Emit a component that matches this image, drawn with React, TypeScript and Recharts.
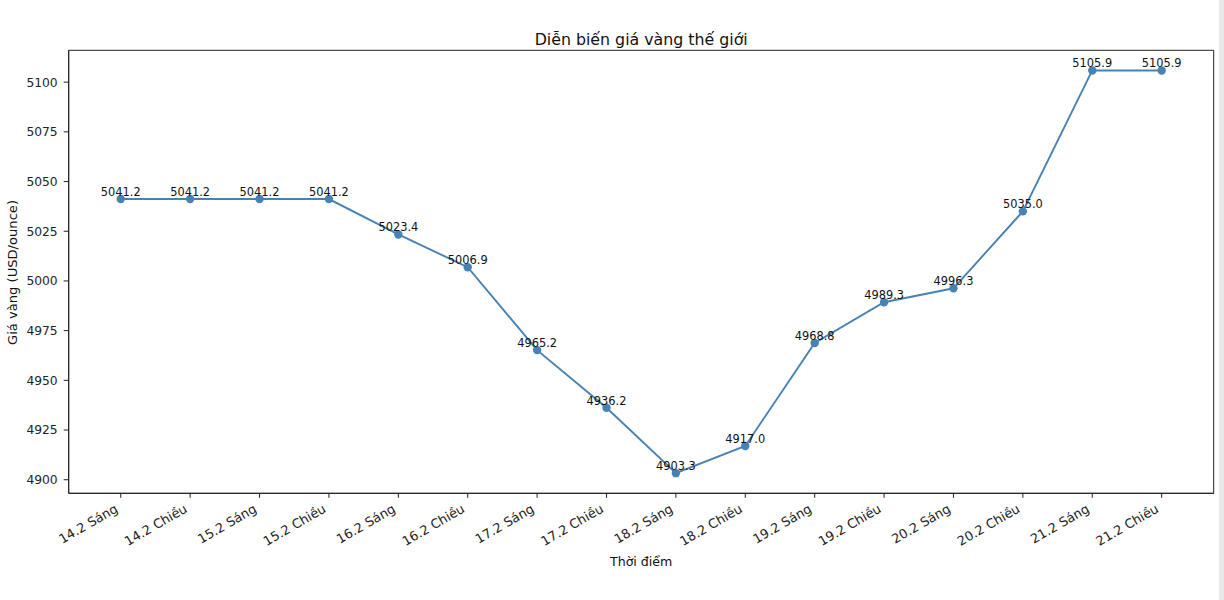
import React from 'react';
import { LineChart, Line, XAxis, YAxis, ReferenceArea, LabelList } from 'recharts';

const timeLabels = [
  '14.2 Sáng', '14.2 Chiều', '15.2 Sáng', '15.2 Chiều',
  '16.2 Sáng', '16.2 Chiều', '17.2 Sáng', '17.2 Chiều',
  '18.2 Sáng', '18.2 Chiều', '19.2 Sáng', '19.2 Chiều',
  '20.2 Sáng', '20.2 Chiều', '21.2 Sáng', '21.2 Chiều',
];

const goldPrices = [
  5041.2, 5041.2, 5041.2, 5041.2,
  5023.4, 5006.9, 4965.2, 4936.2,
  4903.3, 4917.0, 4968.8, 4989.3,
  4996.3, 5035.0, 5105.9, 5105.9,
];

const yTicks = [4900, 4925, 4950, 4975, 5000, 5025, 5050, 5075, 5100];

const FONT = '"DejaVu Sans", sans-serif';
const LINE_COLOR = '#4682B4';

// matplotlib-like 5% margins
const X_DOMAIN: [number, number] = [-0.75, timeLabels.length - 1 + 0.75];
const yMin = Math.min(...goldPrices);
const yMax = Math.max(...goldPrices);
const yPad = (yMax - yMin) * 0.05;
const Y_DOMAIN: [number, number] = [yMin - yPad, yMax + yPad];

const chartData = goldPrices.map((price, i) => ({ idx: i, price }));

const XTick = (props: any) => {
  const { x, y, payload } = props;
  const tx = x - 2;
  const ty = y + 10.5;
  return (
    <text
      x={tx}
      y={ty}
      transform={`rotate(-30 ${tx} ${ty})`}
      textAnchor="end"
      fontSize={12.9}
      fontFamily={FONT}
      fill="#222"
    >
      {timeLabels[payload.value]}
    </text>
  );
};

const PointLabel = (props: any) => {
  const { x, y, value } = props;
  return (
    <text
      x={x}
      y={y - 3}
      textAnchor="middle"
      fontSize={11.4}
      fontFamily={FONT}
      fill="#111"
    >
      {Number(value).toFixed(1)}
    </text>
  );
};

export default function App() {
  return (
    <div style={{ position: 'absolute', left: 0, top: 0, width: 1224, height: 600, background: '#fff' }}>
      <LineChart
        width={1224}
        height={600}
        data={chartData}
        margin={{ top: 50.3, right: 10.3, bottom: 0, left: 8.7 }}
      >
        <XAxis
          dataKey="idx"
          type="number"
          domain={X_DOMAIN}
          ticks={timeLabels.map((_, i) => i)}
          allowDataOverflow
          interval={0}
          height={106.7}
          tickSize={4.5}
          tickMargin={3}
          stroke="#222"
          tick={<XTick />}
        />
        <YAxis
          type="number"
          domain={Y_DOMAIN}
          ticks={yTicks}
          allowDataOverflow
          width={60}
          tickSize={5}
          tickMargin={6}
          stroke="#222"
          tick={{ fontSize: 12.3, fontFamily: FONT, fill: '#222' }}
        />
        <ReferenceArea
          x1={X_DOMAIN[0]}
          x2={X_DOMAIN[1]}
          y1={Y_DOMAIN[0]}
          y2={Y_DOMAIN[1]}
          fill="none"
          stroke="#222"
          strokeWidth={1}
          ifOverflow="visible"
        />
        <Line
          type="linear"
          dataKey="price"
          stroke={LINE_COLOR}
          strokeWidth={1.9}
          dot={{ r: 4.2, fill: LINE_COLOR, stroke: LINE_COLOR, strokeWidth: 0 }}
          activeDot={false}
          isAnimationActive={false}
        >
          <LabelList dataKey="price" content={<PointLabel />} />
        </Line>
      </LineChart>
      <svg
        width={1224}
        height={600}
        style={{ position: 'absolute', left: 0, top: 0, pointerEvents: 'none' }}
      >
        <text x={641.2} y={44.5} textAnchor="middle" fontSize={15.8} fontFamily={FONT} fill="#111">
          Diễn biến giá vàng thế giới
        </text>
        <text x={641.2} y={566} textAnchor="middle" fontSize={12.6} fontFamily={FONT} fill="#111">
          Thời điểm
        </text>
        <text
          x={16.5}
          y={272.5}
          transform="rotate(-90 16.5 272.5)"
          textAnchor="middle"
          fontSize={13.1}
          fontFamily={FONT}
          fill="#111"
        >
          Giá vàng (USD/ounce)
        </text>
      </svg>
      <div style={{ position: 'absolute', left: 1219, top: 0, width: 5, height: 600, background: '#e8e8e8' }} />
    </div>
  );
}
